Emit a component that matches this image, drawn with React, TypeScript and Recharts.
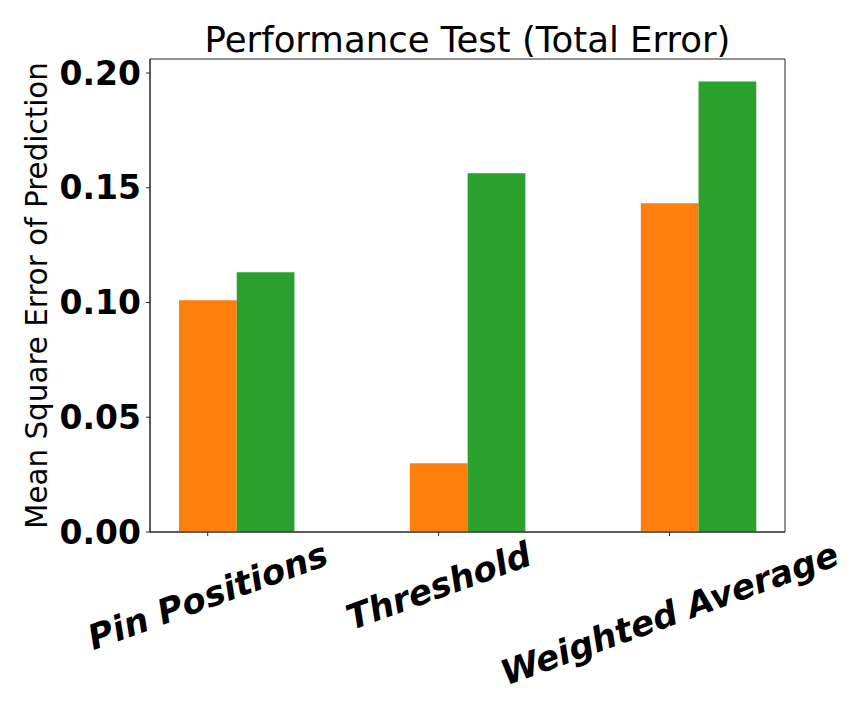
import { BarChart, Bar, XAxis, YAxis, ReferenceArea } from "recharts";

const categories = ["Pin Positions", "Threshold", "Weighted Average"];
const orangeValues = [0.101, 0.03, 0.1432];
const greenValues = [0.1132, 0.1563, 0.1963];
const yTicks = [0, 0.05, 0.1, 0.15, 0.2];

const Y_MAX = 0.2061;
const X_MIN = -0.25;
const X_MAX = 2.5;

// x is the category index; "pad" is an empty slot so the orange bar sits on the tick
const data = categories.map((name, i) => ({
  x: i,
  name,
  pad: 0,
  orange: orangeValues[i],
  green: greenValues[i],
}));

const W = 864;
const H = 720;
const PLOT_LEFT = 150;
const PLOT_RIGHT = 785;
const PLOT_TOP = 59;
const PLOT_BOTTOM = 532;
const AXIS_COLOR = "#262626";
const FONT = "'DejaVu Sans', sans-serif";

let ctx: CanvasRenderingContext2D | null = null;
function measure(text: string, font: string) {
  if (!ctx) ctx = document.createElement("canvas").getContext("2d");
  if (!ctx) return text.length * 20;
  ctx.font = font;
  return ctx.measureText(text).width;
}

const XTick = (props: any) => {
  const { x, y, payload } = props;
  const label = categories[payload.value] ?? "";
  const size = 34.5;
  const len = measure(label, `italic bold ${size}px 'DejaVu Sans'`);
  const h = size * 1.16;
  const rad = (20 * Math.PI) / 180;
  const boxH = len * Math.sin(rad) + h * Math.cos(rad);
  const cy = y - 4 + boxH / 2;
  return (
    <text
      transform={`translate(${x},${cy}) rotate(-20)`}
      textAnchor="middle"
      dominantBaseline="central"
      fontFamily={FONT}
      fontSize={size}
      fontWeight="bold"
      fontStyle="italic"
      fill="#000"
    >
      {label}
    </text>
  );
};

export default function App() {
  const barSize = ((PLOT_RIGHT - PLOT_LEFT) / (X_MAX - X_MIN)) * 0.25;
  return (
    <div style={{ position: "absolute", left: 0, top: 0, width: W, height: H, background: "#fff" }}>
      <BarChart
        width={W}
        height={H}
        data={data}
        barGap={0}
        barSize={barSize}
        margin={{ top: PLOT_TOP, right: W - PLOT_RIGHT, bottom: 38, left: PLOT_LEFT - 90 }}
      >
        <XAxis
          dataKey="x"
          type="number"
          domain={[X_MIN, X_MAX]}
          ticks={[0, 1, 2]}
          height={H - PLOT_BOTTOM - 38}
          stroke={AXIS_COLOR}
          tickSize={4}
          tick={<XTick />}
          interval={0}
        />
        <YAxis
          type="number"
          domain={[0, Y_MAX]}
          ticks={yTicks}
          width={90}
          stroke={AXIS_COLOR}
          tickSize={4}
          tickMargin={5}
          tickFormatter={(v: number) => v.toFixed(2)}
          tick={{ fill: "#000", fontFamily: FONT, fontSize: 33, fontWeight: "bold" }}
        />
        <Bar dataKey="pad" fill="transparent" isAnimationActive={false} />
        <Bar dataKey="orange" fill="#ff7f0e" isAnimationActive={false} />
        <Bar dataKey="green" fill="#2ca02c" isAnimationActive={false} />
        <ReferenceArea
          x1={X_MIN}
          x2={X_MAX}
          y1={0}
          y2={Y_MAX}
          fill="none"
          fillOpacity={0}
          stroke={AXIS_COLOR}
          strokeWidth={1}
          strokeOpacity={1}
          ifOverflow="visible"
        />
      </BarChart>
      <svg
        width={W}
        height={H}
        style={{ position: "absolute", left: 0, top: 0, pointerEvents: "none" }}
      >
        <text
          x={(PLOT_LEFT + PLOT_RIGHT) / 2}
          y={52}
          textAnchor="middle"
          fontFamily={FONT}
          fontSize={35.5}
          fill="#000"
        >
          Performance Test (Total Error)
        </text>
        <text
          transform={`translate(47,${(PLOT_TOP + PLOT_BOTTOM) / 2}) rotate(-90)`}
          textAnchor="middle"
          fontFamily={FONT}
          fontSize={29.4}
          fill="#000"
        >
          Mean Square Error of Prediction
        </text>
      </svg>
    </div>
  );
}
